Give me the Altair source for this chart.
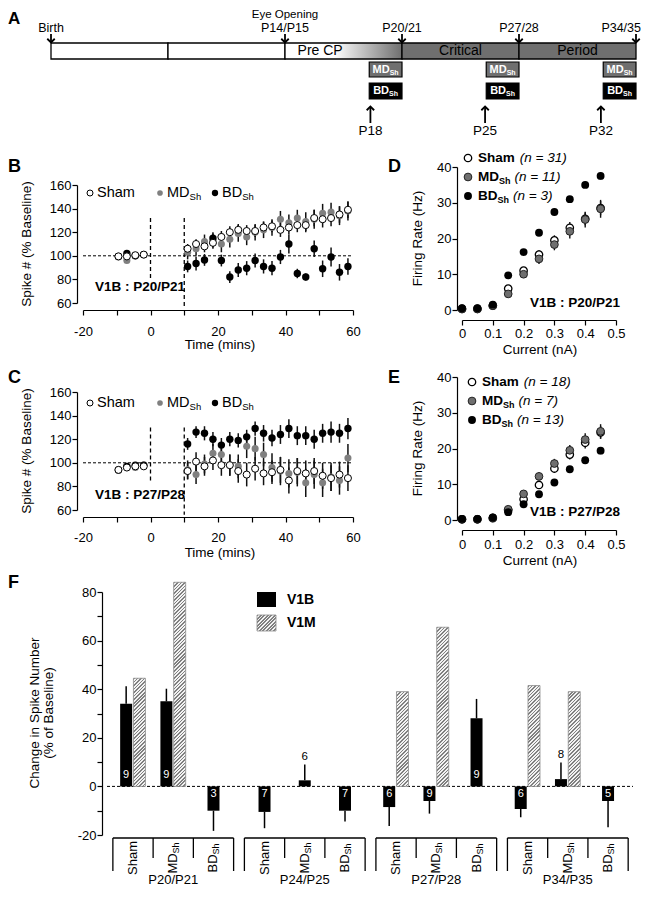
import altair as alt
import pandas as pd

# ======================= DATA =======================
# --- Panel A: developmental timeline (timeline units: one unit per segment)
TL_SEG_START = [0, 1, 2, 3, 4]
TL_SEG_END = [1, 2, 3, 4, 5]
TL_SEG_KIND = ["pre", "pre", "precp", "cp", "cp"]
TL_MARK_POS = [0, 2, 3, 4, 5]
TL_MARK_LABEL = ["Birth", "P14/P15", "P20/21", "P27/28", "P34/35"]
TL_EYE_POS = [2]
TL_EYE_LABEL = ["Eye Opening"]
TL_PHASE_POS = [2.3, 3.5, 4.5]
TL_PHASE_LABEL = ["Pre CP", "Critical", "Period"]
TL_DEPRIV_START = [2.72, 3.72, 4.72]
TL_DEPRIV_END = [3.0, 4.0, 5.0]
TL_DEPRIV_ARROW = [2.73, 3.71, 4.70]
TL_DEPRIV_LABEL = ["P18", "P25", "P32"]

# --- Panels B & C: spike number vs time
T_BASE = [-9.5, -7, -4.5, -2]
T_POST = [11, 13.5, 16, 18.5, 21, 23.5, 26, 28.5, 31, 33.5, 36, 38.5, 41, 43.5, 46, 48.5, 51, 53.5, 56, 58.5]
TIME_TICKS = [-20, -10, 0, 10, 20, 30, 40, 50, 60]
SPIKE_TICKS = [60, 80, 100, 120, 140, 160]
BASELINE = [100]
VLINE_T = [0, 10]
BASE_ERR = [1.5, 1.5, 1.5, 1.5]

B_SHAM_BASE = [99.5, 99.5, 100.5, 101]
B_MD_BASE = [99, 96, 100, 101]
B_BD_BASE = [99.5, 102, 100, 101]
B_SHAM = [106, 110, 108, 111, 116, 120, 122, 121, 121, 124, 125, 122, 124, 126, 126, 132, 131, 132, 135, 139]
B_MD = [103, 106, 112, 113, 110, 114, 119, 116, 120, 122, 124, 131, 128, 132, 129, 131, 136, 137, 134, 138]
B_BD = [91, 93.5, 96.5, 115, 96, 82, 88, 89.5, 96, 91, 89.5, 99, 110, 85, 82, 106, 89, 99, 86, 91]
B_SHAM_ERR = [4, 4, 5, 5, 5, 5, 5, 5, 5, 5, 5, 6, 6, 6, 6, 7, 7, 7, 7, 7]
B_MD_ERR = [6, 6, 6, 6, 7, 7, 7, 7, 7, 7, 7, 7, 7, 7, 8, 8, 8, 8, 8, 8]
B_BD_ERR = [5, 6, 5, 5, 5, 5, 6, 6, 6, 6, 6, 6, 8, 4, 3, 7, 7, 8, 7, 7]
B_VLINE_TOP = [132, 132]
B_VLINE_BOT = [81, 56]

C_SHAM_BASE = [94, 96, 97, 97]
C_MD_BASE = [94, 97, 96, 98]
C_BD_BASE = [94, 97, 98, 98]
C_SHAM = [93, 101, 97, 102, 98, 98, 93, 90, 95, 91, 92, 94, 85, 93, 91, 93, 89, 87, 90, 87]
C_MD = [94, 90, 99, 108, 107, 98, 97, 114, 112, 107, 96, 93, 91, 92, 83, 90, 83, 88, 85, 104]
C_BD = [116, 126, 125, 120, 115, 120, 119, 122, 129, 125, 121, 124, 129, 123, 123, 120, 125, 126, 125, 129]
C_SHAM_ERR = [7, 8, 8, 8, 9, 9, 10, 10, 10, 10, 10, 11, 11, 11, 11, 11, 11, 11, 11, 11]
C_MD_ERR = [8, 8, 8, 8, 8, 9, 10, 10, 10, 10, 12, 12, 12, 12, 12, 12, 12, 12, 12, 12]
C_BD_ERR = [5, 5, 6, 6, 6, 6, 6, 6, 6, 7, 7, 8, 8, 8, 8, 8, 8, 9, 8, 9]
C_VLINE_TOP = [130, 130]
C_VLINE_BOT = [85, 56]

# --- Panels D & E: firing rate vs injected current
CURRENT = [0, 0.05, 0.1, 0.15, 0.2, 0.25, 0.3, 0.35, 0.4, 0.45]
CURRENT_TICKS = [0, 0.1, 0.2, 0.3, 0.4, 0.5]
RATE_TICKS = [0, 10, 20, 30, 40]
D_SHAM = [0.3, 0.3, 1.2, 6.0, 11.0, 15.5, 19.5, 23.0, 25.5, 28.5]
D_MD = [0.3, 0.3, 1.2, 4.5, 10.0, 14.3, 18.3, 22.0, 25.3, 28.3]
D_BD = [0.5, 0.5, 1.5, 9.7, 16.2, 21.6, 27.4, 31.0, 35.0, 37.5]
D_SHAM_ERR = [0.1, 0.1, 0.3, 0.8, 1.0, 1.2, 1.4, 1.6, 1.8, 2.0]
D_MD_ERR = [0.1, 0.1, 0.3, 0.8, 1.0, 1.4, 1.6, 2.0, 2.2, 2.5]
D_BD_ERR = [0.1, 0.1, 0.3, 0.6, 0.8, 0.8, 0.8, 0.8, 0.9, 1.0]
D_N = ["31", "11", "3"]
E_SHAM = [0.2, 0.2, 0.5, 2.7, 5.8, 9.8, 14.4, 18.3, 21.6, 24.5]
E_MD = [0.2, 0.2, 0.6, 3.0, 7.3, 12.2, 15.8, 19.5, 22.5, 24.8]
E_BD = [0.3, 0.3, 0.7, 2.2, 4.4, 7.2, 10.5, 14.2, 16.7, 19.4]
E_SHAM_ERR = [0.1, 0.1, 0.2, 0.6, 0.8, 1.0, 1.2, 1.4, 1.6, 1.8]
E_MD_ERR = [0.1, 0.1, 0.2, 0.6, 0.9, 1.1, 1.3, 1.5, 1.8, 2.0]
E_BD_ERR = [0.1, 0.1, 0.2, 0.5, 0.6, 0.7, 0.7, 0.8, 0.9, 1.0]
E_N = ["18", "7", "13"]

# --- Panel F: change in spike number
F_GROUPS = ["P20/P21", "P24/P25", "P27/P28", "P34/P35"]
F_CATS = ["Sham", "MD", "BD"]
V1B_MEAN = [34, 35, -10, -10.5, 2.5, -10, -8.5, -6, 28, -9.3, 3, -6]
V1B_ERR = [7.2, 5.2, 8.3, 6.7, 6.5, 4.4, 7.8, 5.2, 8.0, 3.4, 6.8, 10.8]
V1B_N = [9, 9, 3, 7, 6, 7, 6, 9, 9, 6, 8, 5]
V1M_MEAN = [44.5, 84, None, None, None, None, 39, 65.5, None, 41.5, 39, None]
F_Y_TICKS = [-20, -10, 0, 10, 20, 30, 40, 50, 60, 70, 80]

# ======================= LAYOUT / STYLE =======================
OFF = 8
W, H = 634, 883
FONT = "Liberation Sans"
ONE = alt.Data(values=[{}])
GRAY_PT = "#808080"
MD_GRAY = "#6f6f6f"
CP_GRAY = "#6f6f6f"


def px(v):
    return v - OFF


def py(v):
    return v - OFF


def label(text, x, y, size=13, weight="normal", style="normal", align="left",
          angle=0, color="black", dx=0, dy=0):
    return alt.Chart(ONE).mark_text(
        text=text, font=FONT, fontSize=size, fontWeight=weight, fontStyle=style,
        align=align, baseline="middle", angle=angle, color=color, dx=dx, dy=dy
    ).encode(x=alt.value(px(x)), y=alt.value(py(y)))


def dot(x, y, fill, stroke=None, size=36, sw=1.0):
    kw = dict(shape="circle", filled=True, fill=fill, size=size, opacity=1)
    if stroke:
        kw.update(stroke=stroke, strokeWidth=sw)
    return alt.Chart(ONE).mark_point(**kw).encode(x=alt.value(px(x)), y=alt.value(py(y)))


def hatch(w, h, period=2.5, frac=0.45, dark="#808080", light="#f2f2f2"):
    r = max(h, 1) / w
    a = (1 + r) / (1 + r * r)
    b = a * r
    n = max(1, int(round((w + h) / (1.4142 * period))))
    stops = []
    for i in range(n):
        o0, o1, o2 = i / n, (i + frac) / n, (i + 1) / n
        stops += [alt.GradientStop(color=dark, offset=o0), alt.GradientStop(color=dark, offset=o1),
                  alt.GradientStop(color=light, offset=o1), alt.GradientStop(color=light, offset=o2)]
    return alt.LinearGradient(gradient="linear", stops=stops, x1=0, y1=0, x2=a, y2=b)


AXIS_STYLE = dict(title=None, tickSize=5, labelOverlap=False, labelFlush=False, grid=False,
                  labelFont=FONT, labelFontSize=13, labelColor="black", domainColor="black",
                  tickColor="black", domainWidth=1.2, tickWidth=1.2)

texts = []

# ======================= PANEL A =======================
tlA = alt.Scale(domain=[0, 5], range=[px(51), px(636)], nice=False, zero=False)


def XA(f):
    return alt.X(f, scale=tlA, axis=None)


seg_df = pd.DataFrame({"a": TL_SEG_START, "b": TL_SEG_END, "kind": TL_SEG_KIND})
grad_pre = alt.LinearGradient(
    gradient="linear", x1=0, y1=0, x2=1, y2=0,
    stops=[alt.GradientStop(color="white", offset=0), alt.GradientStop(color="white", offset=0.42),
           alt.GradientStop(color=CP_GRAY, offset=1)])
A_layers = []
for kind, fill in [("pre", "white"), ("precp", grad_pre), ("cp", CP_GRAY)]:
    A_layers.append(
        alt.Chart(seg_df).transform_filter(f"datum.kind == '{kind}'")
        .mark_rect(fill=fill, stroke="black", strokeWidth=1.3)
        .encode(x=XA("a:Q"), x2="b:Q", y=alt.value(py(43)), y2=alt.value(py(59))))

phase_df = pd.DataFrame({"pos": TL_PHASE_POS, "label": TL_PHASE_LABEL})
A_layers.append(alt.Chart(phase_df).mark_text(font=FONT, fontSize=14, align="center", baseline="middle",
                                              color="black")
                .encode(x=XA("pos:Q"), y=alt.value(py(51)), text="label:N"))

mk_df = pd.DataFrame({"pos": TL_MARK_POS, "label": TL_MARK_LABEL})
A_layers.append(alt.Chart(mk_df).mark_rule(color="black", strokeWidth=1.8)
                .encode(x=XA("pos:Q"), y=alt.value(py(34)), y2=alt.value(py(42))))
A_layers.append(alt.Chart(mk_df).mark_point(shape="M-1,-1L0,0L1,-1", filled=False, stroke="black",
                                            strokeWidth=1.8, size=56, opacity=1)
                .encode(x=XA("pos:Q"), y=alt.value(py(42.5))))
A_layers.append(alt.Chart(mk_df).transform_filter("datum.pos < 5")
                .mark_text(font=FONT, fontSize=12.5, align="center", baseline="middle", color="black")
                .encode(x=XA("pos:Q"), y=alt.value(py(28)), text="label:N"))
A_layers.append(alt.Chart(mk_df).transform_filter("datum.pos >= 5")
                .mark_text(font=FONT, fontSize=12.5, align="right", baseline="middle", color="black", dx=5)
                .encode(x=XA("pos:Q"), y=alt.value(py(28)), text="label:N"))
eye_df = pd.DataFrame({"pos": TL_EYE_POS, "label": TL_EYE_LABEL})
A_layers.append(alt.Chart(eye_df).mark_text(font=FONT, fontSize=11.5, align="center", baseline="middle",
                                            color="black")
                .encode(x=XA("pos:Q"), y=alt.value(py(15)), text="label:N"))

dp_df = pd.DataFrame({"a": TL_DEPRIV_START, "b": TL_DEPRIV_END, "arrow": TL_DEPRIV_ARROW,
                      "label": TL_DEPRIV_LABEL})
A_layers.append(alt.Chart(dp_df).mark_rect(fill=MD_GRAY, stroke="black", strokeWidth=1.2)
                .encode(x=XA("a:Q"), x2="b:Q", y=alt.value(py(62)), y2=alt.value(py(77))))
A_layers.append(alt.Chart(dp_df).mark_rect(fill="black", stroke="black", strokeWidth=1.2)
                .encode(x=XA("a:Q"), x2="b:Q", y=alt.value(py(83)), y2=alt.value(py(99))))
for main, yy in [("MD", 69.5), ("BD", 91)]:
    wmain = (1.555 if main == "MD" else 1.444) * 11
    start = -(wmain + 9) / 2
    A_layers.append(alt.Chart(dp_df).transform_calculate(mid="(datum.a + datum.b) / 2")
                    .mark_text(text=main, font=FONT, fontSize=11, fontWeight="bold", color="white",
                               align="left", baseline="middle", dx=start)
                    .encode(x=XA("mid:Q"), y=alt.value(py(yy))))
    A_layers.append(alt.Chart(dp_df).transform_calculate(mid="(datum.a + datum.b) / 2")
                    .mark_text(text="Sh", font=FONT, fontSize=7, fontWeight="bold", color="white",
                               align="left", baseline="middle", dx=start + wmain, dy=3)
                    .encode(x=XA("mid:Q"), y=alt.value(py(yy))))
A_layers.append(alt.Chart(dp_df).mark_rule(color="black", strokeWidth=1.8)
                .encode(x=XA("arrow:Q"), y=alt.value(py(107)), y2=alt.value(py(123))))
A_layers.append(alt.Chart(dp_df).mark_point(shape="M-1,1L0,0L1,1", filled=False, stroke="black",
                                            strokeWidth=1.8, size=56, opacity=1)
                .encode(x=XA("arrow:Q"), y=alt.value(py(106.5))))
A_layers.append(alt.Chart(dp_df).mark_text(font=FONT, fontSize=13.5, align="center", baseline="middle",
                                           color="black")
                .encode(x=XA("arrow:Q"), y=alt.value(py(131)), text="label:N"))
panel_A = alt.layer(*A_layers)


# ======================= PANELS B & C =======================
def time_panel(base_vals, post_vals, post_errs, y_top, y_bot, axis_y, label_pad, vtop, vbot):
    rows = []
    for s in ["Sham", "MD", "BD"]:
        for t, v, e in zip(T_BASE, base_vals[s], BASE_ERR):
            rows.append({"t": t, "v": v, "e": e, "s": s})
        for t, v, e in zip(T_POST, post_vals[s], post_errs[s]):
            rows.append({"t": t, "v": v, "e": e, "s": s})
    df = pd.DataFrame(rows)
    xs = alt.Scale(domain=[-20, 60], range=[px(83), px(353)], nice=False, zero=False)
    ys = alt.Scale(domain=[60, 160], range=[py(y_bot), py(y_top)], nice=False, zero=False)
    xax = alt.Axis(orient="bottom", offset=py(axis_y) - H, values=TIME_TICKS,
                   labelExpr="datum.value % 20 === 0 ? '' + datum.value : ''",
                   labelPadding=label_pad, **AXIS_STYLE)
    yax = alt.Axis(orient="left", offset=-px(77), values=SPIKE_TICKS, labelPadding=1, **AXIS_STYLE)

    def X(f):
        return alt.X(f, scale=xs, axis=xax)

    def Y(f):
        return alt.Y(f, scale=ys, axis=yax)

    base = alt.Chart(df)
    layers = []
    layers.append(alt.Chart(pd.DataFrame({"y": BASELINE})).mark_rule(color="black", strokeWidth=1,
                                                                     strokeDash=[3, 2])
                  .encode(x=alt.XDatum(-20, scale=xs, axis=xax), x2=alt.X2Datum(60), y=Y("y:Q")))
    layers.append(alt.Chart(pd.DataFrame({"t": VLINE_T, "top": vtop, "bot": vbot}))
                  .mark_rule(color="black", strokeWidth=1.3, strokeDash=[4, 3])
                  .encode(x=X("t:Q"), y=Y("top:Q"), y2="bot:Q"))
    layers.append(base.transform_calculate(lo="datum.v - datum.e", hi="datum.v + datum.e")
                  .mark_rule(color="#111111", strokeWidth=1.5)
                  .encode(x=X("t:Q"), y=Y("lo:Q"), y2="hi:Q"))
    layers.append(base.transform_filter("datum.s == 'MD'")
                  .mark_point(shape="circle", filled=True, fill=GRAY_PT, size=50, opacity=1)
                  .encode(x=X("t:Q"), y=Y("v:Q")))
    layers.append(base.transform_filter("datum.s == 'BD'")
                  .mark_point(shape="circle", filled=True, fill="black", size=55, opacity=1)
                  .encode(x=X("t:Q"), y=Y("v:Q")))
    layers.append(base.transform_filter("datum.s == 'Sham'")
                  .mark_point(shape="circle", filled=True, fill="white", stroke="black", strokeWidth=1,
                              size=50, opacity=1)
                  .encode(x=X("t:Q"), y=Y("v:Q")))
    return alt.layer(*layers)


panel_B = time_panel({"Sham": B_SHAM_BASE, "MD": B_MD_BASE, "BD": B_BD_BASE},
                     {"Sham": B_SHAM, "MD": B_MD, "BD": B_BD},
                     {"Sham": B_SHAM_ERR, "MD": B_MD_ERR, "BD": B_BD_ERR},
                     185, 303, 310, 10, B_VLINE_TOP, B_VLINE_BOT)
panel_C = time_panel({"Sham": C_SHAM_BASE, "MD": C_MD_BASE, "BD": C_BD_BASE},
                     {"Sham": C_SHAM, "MD": C_MD, "BD": C_BD},
                     {"Sham": C_SHAM_ERR, "MD": C_MD_ERR, "BD": C_BD_ERR},
                     392, 510, 517, 9, C_VLINE_TOP, C_VLINE_BOT)


def time_decor(y_axis_mid, legend_y, tag_y, title_y, tag_text, letter, letter_y):
    out = []
    out.append(label(letter, 8, letter_y, size=18, weight="bold"))
    out.append(label("Spike # (% Baseline)", 27, y_axis_mid, size=13.5, angle=270, align="center"))
    out.append(label("Time (mins)", 220, title_y, size=13.5, align="center"))
    out.append(label(tag_text, 95, tag_y, size=13.5, weight="bold"))
    fs = 14.5
    out.append(dot(90, legend_y, "white", "black", size=36, sw=1))
    out.append(label("Sham", 97, legend_y, size=fs))
    out.append(dot(160, legend_y, GRAY_PT, size=32))
    out.append(label("MD", 167, legend_y, size=fs))
    out.append(label("Sh", 167 + 1.555 * fs, legend_y, size=9.5, dy=4))
    out.append(dot(215, legend_y, "black", size=40))
    out.append(label("BD", 222, legend_y, size=fs))
    out.append(label("Sh", 222 + 1.389 * fs, legend_y, size=9.5, dy=4))
    return out


texts += time_decor(244, 193, 287, 345, "V1B : P20/P21", "B", 167)
texts += time_decor(451, 403, 495, 553, "V1B : P27/P28", "C", 378)


# ======================= PANELS D & E =======================
def fi_panel(vals, errs, y_top, y_bot, axis_y, label_pad):
    rows = []
    for s in ["Sham", "MD", "BD"]:
        for c, v, e in zip(CURRENT, vals[s], errs[s]):
            rows.append({"c": c, "v": v, "e": e, "s": s})
    df = pd.DataFrame(rows)
    xs = alt.Scale(domain=[0, 0.5], range=[px(462), px(616)], nice=False, zero=False)
    ys = alt.Scale(domain=[0, 40], range=[py(y_bot), py(y_top)], nice=False, zero=False)
    xax = alt.Axis(orient="bottom", offset=py(axis_y) - H, values=CURRENT_TICKS,
                   labelExpr="'' + datum.value", labelPadding=label_pad, **AXIS_STYLE)
    yax = alt.Axis(orient="left", offset=-px(457), values=RATE_TICKS, labelPadding=1, **AXIS_STYLE)

    def X(f):
        return alt.X(f, scale=xs, axis=xax)

    def Y(f):
        return alt.Y(f, scale=ys, axis=yax)

    base = alt.Chart(df)
    layers = [
        base.transform_calculate(lo="datum.v - datum.e", hi="datum.v + datum.e")
        .mark_rule(color="#111111", strokeWidth=1.4).encode(x=X("c:Q"), y=Y("lo:Q"), y2="hi:Q"),
        base.transform_filter("datum.s == 'Sham'")
        .mark_point(shape="circle", filled=True, fill="white", stroke="black", strokeWidth=1.3, size=55,
                    opacity=1).encode(x=X("c:Q"), y=Y("v:Q")),
        base.transform_filter("datum.s == 'MD'")
        .mark_point(shape="circle", filled=True, fill=MD_GRAY, stroke="#222222", strokeWidth=1, size=60,
                    opacity=1).encode(x=X("c:Q"), y=Y("v:Q")),
        base.transform_filter("datum.s == 'BD'")
        .mark_point(shape="circle", filled=True, fill="black", size=62, opacity=1)
        .encode(x=X("c:Q"), y=Y("v:Q")),
    ]
    return alt.layer(*layers)


panel_D = fi_panel({"Sham": D_SHAM, "MD": D_MD, "BD": D_BD},
                   {"Sham": D_SHAM_ERR, "MD": D_MD_ERR, "BD": D_BD_ERR}, 167, 310, 320, 2)
panel_E = fi_panel({"Sham": E_SHAM, "MD": E_MD, "BD": E_BD},
                   {"Sham": E_SHAM_ERR, "MD": E_MD_ERR, "BD": E_BD_ERR}, 377, 520, 530, 3)


def fi_decor(letter, letter_y, ymid, title_y, tag_text, tag_y, leg_x, leg_y0, ns):
    out = []
    out.append(label(letter, 388, letter_y, size=18, weight="bold"))
    out.append(label("Firing Rate (Hz)", 418, ymid, size=13.5, angle=270, align="center"))
    out.append(label("Current (nA)", 540, title_y, size=13.5, align="center"))
    out.append(label(tag_text, 620, tag_y, size=13.5, weight="bold", align="right"))
    fs = 13.5
    step = 19
    tx = leg_x + 10
    y = leg_y0
    out.append(dot(leg_x, y, "white", "black", size=55, sw=1.3))
    out.append(label("Sham", tx, y, size=fs, weight="bold"))
    out.append(label(f"(n = {ns[0]})", tx + 2.723 * fs + 5, y, size=fs, style="italic"))
    y = leg_y0 + step
    out.append(dot(leg_x, y, MD_GRAY, "#222222", size=60, sw=1))
    out.append(label("MD", tx, y, size=fs, weight="bold"))
    out.append(label("Sh", tx + 1.555 * fs, y, size=9, weight="bold", dy=4))
    out.append(label(f"(n = {ns[1]})", tx + 1.555 * fs + 11.5 + 4, y, size=fs, style="italic"))
    y = leg_y0 + 2 * step
    out.append(dot(leg_x, y, "black", size=62))
    out.append(label("BD", tx, y, size=fs, weight="bold"))
    out.append(label("Sh", tx + 1.444 * fs, y, size=9, weight="bold", dy=4))
    out.append(label(f"(n = {ns[2]})", tx + 1.444 * fs + 11.5 + 4, y, size=fs, style="italic"))
    return out


texts += fi_decor("D", 167, 238.5, 350, "V1B : P20/P21", 303, 468, 158, D_N)
texts += fi_decor("E", 378, 448.5, 561, "V1B : P27/P28", 512, 472, 382, E_N)

# ======================= PANEL F =======================
F_START, F_SPAN, F_XMAX = 0.146, 3.268, 13.07
PXU = (835 - 592) / 100.0
BAR_W = 12
xsF = alt.Scale(domain=[0, F_XMAX], range=[px(102), px(638)], nice=False, zero=False)
ysF = alt.Scale(domain=[-20, 80], range=[py(835), py(592)], nice=False, zero=False)
yaxF = alt.Axis(orient="left", offset=-px(102), values=F_Y_TICKS,
                labelExpr="datum.value % 20 === 0 ? '' + datum.value : ''", labelPadding=1, **AXIS_STYLE)


def XF(f):
    return alt.X(f, scale=xsF, axis=None)


def YF(f):
    return alt.Y(f, scale=ysF, axis=yaxF)


rows_b, rows_m, rows_slot = [], [], []
for i in range(len(V1B_MEAN)):
    g, k = divmod(i, 3)
    center = F_START + g * F_SPAN + k + 0.5
    paired = V1M_MEAN[i] is not None
    v, e = V1B_MEAN[i], V1B_ERR[i]
    rows_b.append({"pos": center - (0.17 if paired else 0.0), "v": v,
                   "tip": v + e if v >= 0 else v - e, "n": str(V1B_N[i]),
                   "inside": abs(v) >= 5, "pos_sign": v >= 0})
    if paired:
        rows_m.append({"pos": center + 0.16, "v": V1M_MEAN[i]})
    rows_slot.append({"pos": center, "cat": F_CATS[k]})
df_b = pd.DataFrame(rows_b)
df_slot = pd.DataFrame(rows_slot)
df_grp = pd.DataFrame({"start": [F_START + g * F_SPAN for g in range(4)], "label": F_GROUPS})
df_grp["end"] = df_grp["start"] + 3
df_grp["center"] = df_grp["start"] + 1.5
df_edges = pd.DataFrame({"xe": list(df_grp["start"]) + list(df_grp["end"])})
df_div = pd.DataFrame({"xe": list(df_grp["start"] + 1) + list(df_grp["start"] + 2)})

F_layers = []
F_layers.append(alt.Chart(ONE).mark_rule(color="black", strokeWidth=1, strokeDash=[3, 2])
                .encode(x=alt.XDatum(0, scale=xsF, axis=None), x2=alt.X2Datum(F_XMAX),
                        y=alt.YDatum(0, scale=ysF, axis=yaxF)))
F_layers.append(alt.Chart(df_b).mark_rule(color="black", strokeWidth=1.5)
                .encode(x=XF("pos:Q"), y=YF("v:Q"), y2="tip:Q"))
F_layers.append(alt.Chart(df_b).mark_bar(size=BAR_W, orient="vertical", color="black")
                .encode(x=XF("pos:Q"), y=YF("v:Q"), y2=alt.Y2Datum(0)))
for r in rows_m:
    F_layers.append(alt.Chart(pd.DataFrame([r]))
                    .mark_bar(size=BAR_W, orient="vertical", fill=hatch(BAR_W, r["v"] * PXU),
                              stroke="#8a8a8a", strokeWidth=0.8)
                    .encode(x=XF("pos:Q"), y=YF("v:Q"), y2=alt.Y2Datum(0)))
F_layers.append(alt.Chart(df_b).transform_filter("datum.inside && datum.pos_sign")
                .mark_text(font=FONT, fontSize=11, color="white", align="center", baseline="middle", dy=-11)
                .encode(x=XF("pos:Q"), y=alt.YDatum(0, scale=ysF, axis=yaxF), text="n:N"))
F_layers.append(alt.Chart(df_b).transform_filter("datum.inside && !datum.pos_sign")
                .mark_text(font=FONT, fontSize=11, color="white", align="center", baseline="middle", dy=8)
                .encode(x=XF("pos:Q"), y=alt.YDatum(0, scale=ysF, axis=yaxF), text="n:N"))
F_layers.append(alt.Chart(df_b).transform_filter("!datum.inside")
                .mark_text(font=FONT, fontSize=11.5, color="black", align="center", baseline="middle", dy=-8)
                .encode(x=XF("pos:Q"), y=YF("tip:Q"), text="n:N"))
F_layers.append(alt.Chart(df_grp).mark_rule(color="black", strokeWidth=1.3)
                .encode(x=XF("start:Q"), x2="end:Q", y=alt.value(py(838))))
F_layers.append(alt.Chart(df_edges).mark_rule(color="black", strokeWidth=1.3)
                .encode(x=XF("xe:Q"), y=alt.value(py(838)), y2=alt.value(py(871))))
F_layers.append(alt.Chart(df_div).mark_rule(color="black", strokeWidth=1.3)
                .encode(x=XF("xe:Q"), y=alt.value(py(838)), y2=alt.value(py(858))))
F_layers.append(alt.Chart(df_slot).transform_filter("datum.cat == 'Sham'")
                .mark_text(text="Sham", font=FONT, fontSize=13, angle=270, align="center", baseline="middle")
                .encode(x=XF("pos:Q"), y=alt.value(py(858))))
for cat, wem in [("MD", 1.555), ("BD", 1.389)]:
    wmain = wem * 13
    start = -(wmain + 11) / 2
    F_layers.append(alt.Chart(df_slot).transform_filter(f"datum.cat == '{cat}'")
                    .mark_text(text=cat, font=FONT, fontSize=13, angle=270, align="left", baseline="middle",
                               dx=start)
                    .encode(x=XF("pos:Q"), y=alt.value(py(858))))
    F_layers.append(alt.Chart(df_slot).transform_filter(f"datum.cat == '{cat}'")
                    .mark_text(text="Sh", font=FONT, fontSize=9, angle=270, align="left", baseline="middle",
                               dx=start + wmain, dy=3)
                    .encode(x=XF("pos:Q"), y=alt.value(py(858))))
F_layers.append(alt.Chart(df_grp).mark_text(font=FONT, fontSize=13, align="center", baseline="middle")
                .encode(x=XF("center:Q"), y=alt.value(py(880)), text="label:N"))
panel_F = alt.layer(*F_layers)

texts.append(label("F", 8, 583, size=18, weight="bold"))
texts.append(label("A", 8, 19, size=17, weight="bold"))
texts.append(label("Change in Spike Number", 35, 713, size=13.5, angle=270, align="center"))
texts.append(label("(% of Baseline)", 49, 713, size=13.5, angle=270, align="center"))
texts.append(alt.Chart(ONE).mark_rect(fill="black")
             .encode(x=alt.value(px(257)), x2=alt.value(px(276)), y=alt.value(py(592)), y2=alt.value(py(607))))
texts.append(alt.Chart(ONE).mark_rect(fill=hatch(19, 16), stroke="#8a8a8a", strokeWidth=0.8)
             .encode(x=alt.value(px(257)), x2=alt.value(px(276)), y=alt.value(py(615)), y2=alt.value(py(631))))
texts.append(label("V1B", 287, 600, size=14, weight="bold"))
texts.append(label("V1M", 287, 623, size=14, weight="bold"))

chart = (alt.layer(panel_A, panel_B, panel_C, panel_D, panel_E, panel_F, *texts)
         .resolve_scale(x="independent", y="independent")
         .properties(width=W, height=H, autosize=alt.AutoSizeParams(type="none"), padding=0)
         .configure_view(stroke=None))

chart.save("out.html", embed_options={"renderer": "svg", "actions": False})
